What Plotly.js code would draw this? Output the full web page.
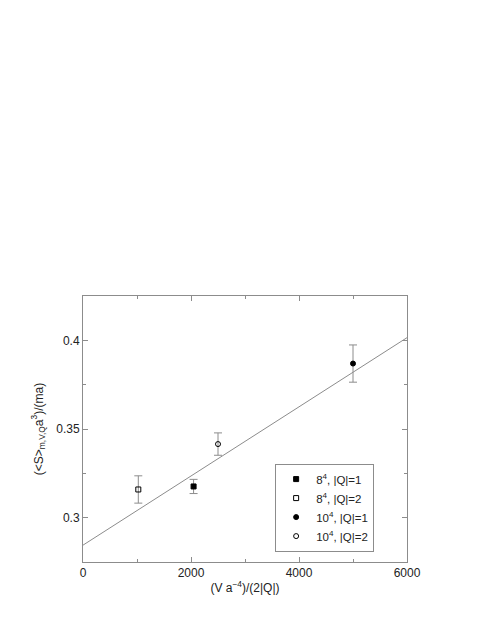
<!DOCTYPE html>
<html>
<head>
<meta charset="utf-8">
<script src="https://cdn.plot.ly/plotly-3.0.1.min.js"></script>
<style>
  body { margin: 0; background: #fff; }
  #plot { width: 491px; height: 635px; }
</style>
</head>
<body>
<div id="plot"></div>
<script>
// values
var names = ['8<sup>4</sup>, |Q|=1', '8<sup>4</sup>, |Q|=2', '10<sup>4</sup>, |Q|=1', '10<sup>4</sup>, |Q|=2'];
var symbols = ['square', 'square-open', 'circle', 'circle-open'];
var volX = [2048, 1024, 5000, 2500];
var sVal = [0.3176, 0.3159, 0.3869, 0.3415];
var sErr = [0.0040, 0.0077, 0.0105, 0.0063];

// fitted straight line
var fitX = [0, 6000];
var fitY = [0.2845, 0.4015];

var axisGrey = '#8c8c8c';

var fit = {
	x: fitX,
	y: fitY,
	mode: 'lines',
	showlegend: false,
	hoverinfo: 'skip',
	line: { color: '#8c8c8c', width: 1 }
};

var data = [fit];

for (var i = 0; i < names.length; i++) {
	data.push({
		x: [volX[i]],
		y: [sVal[i]],
		name: names[i],
		mode: 'markers',
		marker: {
			symbol: symbols[i],
			size: 5,
			color: '#000000',
			line: { color: '#000000', width: 1 }
		},
		error_y: {
			type: 'data',
			array: [sErr[i]],
			color: axisGrey,
			thickness: 1,
			width: 4
		}
	});
}

var layout = {
	width: 491,
	height: 635,
	paper_bgcolor: '#ffffff',
	plot_bgcolor: '#ffffff',
	margin: { l: 83, r: 84, t: 296, b: 73 },
	font: { family: 'Liberation Sans, Arial, sans-serif', size: 12, color: '#222222' },
	showlegend: true,
	legend: {
		x: 0.593,
		y: 0.37,
		xanchor: 'left',
		yanchor: 'top',
		bordercolor: axisGrey,
		borderwidth: 1,
		bgcolor: '#ffffff',
		font: { size: 11.5, color: '#222222' },
		tracegroupgap: 0,
		itemwidth: 30
	},
	xaxis: {
		range: [0, 6000],
		showgrid: false,
		zeroline: false,
		showline: true,
		linecolor: axisGrey,
		linewidth: 1,
		mirror: 'ticks',
		ticks: 'inside',
		ticklen: 5,
		tickcolor: axisGrey,
		tick0: 0,
		dtick: 2000,
		minor: { ticks: 'inside', dtick: 1000, ticklen: 3, tickcolor: axisGrey },
		tickfont: { size: 12 },
		title: { text: '(V a<sup>\u22124</sup>)/(2|Q|)', font: { size: 12 }, standoff: 4 }
	},
	yaxis: {
		range: [0.275, 0.425],
		showgrid: false,
		zeroline: false,
		showline: true,
		linecolor: axisGrey,
		linewidth: 1,
		mirror: 'ticks',
		ticks: 'inside',
		ticklen: 5,
		tickcolor: axisGrey,
		tick0: 0.3,
		dtick: 0.05,
		minor: { ticks: 'inside', dtick: 0.025, ticklen: 3, tickcolor: axisGrey },
		tickfont: { size: 12 },
		title: { text: '(&lt;S&gt;<sub>m,V,Q</sub>a<sup>3</sup>)/(ma)', font: { size: 12 }, standoff: 10 }
	}
};

Plotly.newPlot('plot', data, layout, { displayModeBar: false, staticPlot: true });
</script>
</body>
</html>
